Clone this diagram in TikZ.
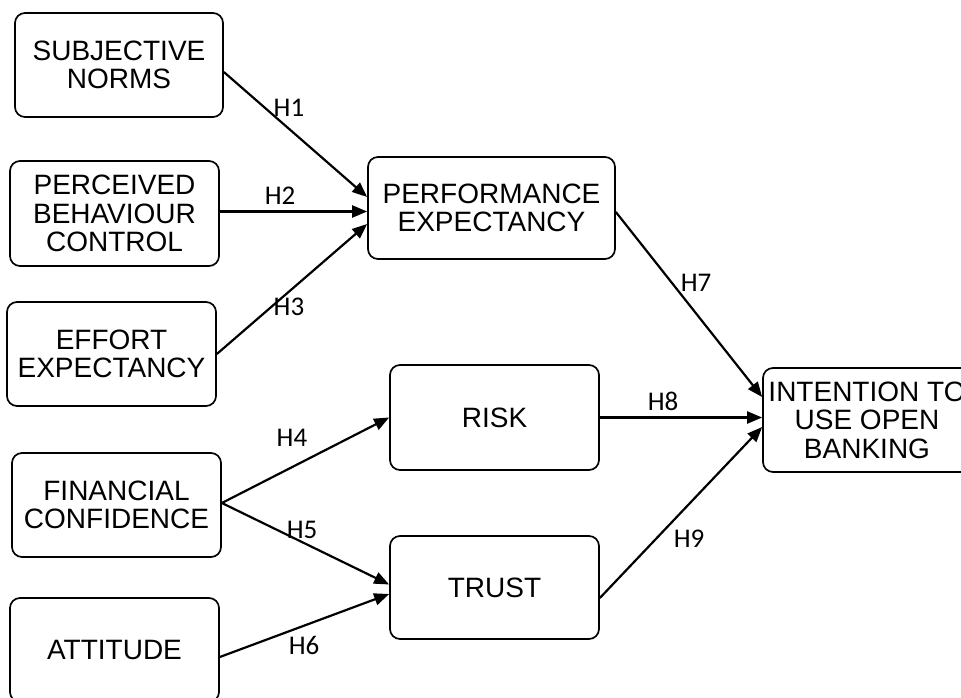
\documentclass[tikz,border=0pt]{standalone}
\usepackage{fontspec}
\setmainfont{Liberation Sans}
\newfontfamily\labfont{Carlito}
\usetikzlibrary{arrows.meta}
\begin{document}
\begin{tikzpicture}[x=1pt,y=-1pt,
  box/.style={draw=black,line width=1.7pt,rounded corners=10pt,align=center,
    inner sep=0pt,font=\fontsize{28}{28.5}\selectfont,text=black},
  conn/.style={draw=black,line width=2.2pt,-{Triangle[length=15pt,width=12pt]}},
  hlab/.style={font=\labfont\fontsize{27}{27}\selectfont,inner sep=0pt,text=black}]
\useasboundingbox (0,0) rectangle (961,698);
\clip (0,0) rectangle (961,698);
\node[box,minimum width=208pt,minimum height=104pt] (sn) at (119,65) {SUBJECTIVE\\NORMS};
\node[box,minimum width=209pt,minimum height=105pt] (pbc) at (114.5,213.5) {PERCEIVED\\BEHAVIOUR\\CONTROL};
\node[box,minimum width=209pt,minimum height=104pt] (ee) at (111.5,354) {EFFORT\\EXPECTANCY};
\node[box,minimum width=209pt,minimum height=104pt] (fc) at (116.5,505) {FINANCIAL\\CONFIDENCE};
\node[box,minimum width=209pt,minimum height=104pt] (att) at (114.5,650) {ATTITUDE};
\node[box,minimum width=247pt,minimum height=102pt] (pe) at (491.5,208) {PERFORMANCE\\EXPECTANCY};
\node[box,minimum width=209pt,minimum height=105pt] (risk) at (494.5,417.5) {RISK};
\node[box,minimum width=209pt,minimum height=103pt] (trust) at (494.5,587.5) {TRUST};
\node[box,minimum width=208pt,minimum height=104pt] (int) at (867,420) {INTENTION TO\\USE OPEN\\BANKING};

\draw[conn] ([yshift=-7pt]sn.east) -- ([yshift=11pt]pe.west);
\draw[conn] ([yshift=2pt]pbc.east) -- ([yshift=2pt]pbc.east -| pe.west);
\draw[conn] (ee.east) -- ([yshift=-16pt]pe.west);
\draw[conn] ([yshift=2pt]fc.east) -- (risk.west);
\draw[conn] ([yshift=2pt]fc.east) -- ([yshift=3pt]trust.west);
\draw[conn] ([yshift=-7pt]att.east) -- ([yshift=-6.5pt]trust.west);
\draw[conn] ([yshift=-4pt]pe.east) -- ([yshift=23pt]int.west);
\draw[conn] (risk.east) -- (risk.east -| int.west);
\draw[conn] ([yshift=-10.5pt]trust.east) -- ([yshift=-7pt]int.west);

\node[hlab] (h1) at (289,108) {H1};
\node[hlab] (h2) at (280,196) {H2};
\node[hlab] (h3) at (289,307) {H3};
\node[hlab] (h4) at (292,438) {H4};
\node[hlab] (h5) at (302,530) {H5};
\node[hlab] (h6) at (304,645) {H6};
\node[hlab] (h7) at (696,283) {H7};
\node[hlab] (h8) at (663,401) {H8};
\node[hlab] (h9) at (689,539) {H9};
\end{tikzpicture}
\end{document}
